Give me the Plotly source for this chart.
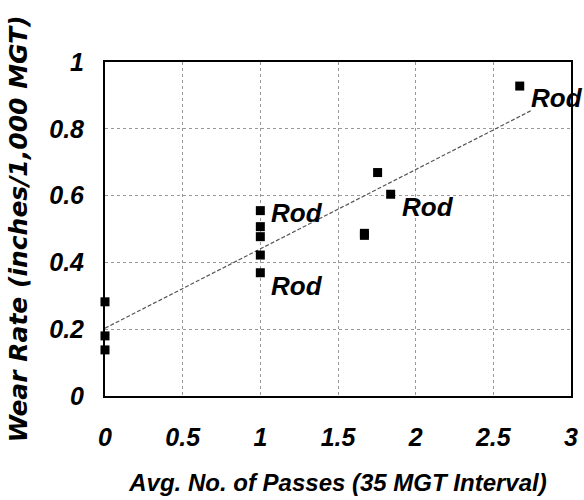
import plotly.graph_objects as go

# Data
x_vals = [0, 0, 0, 1, 1, 1, 1, 1, 1.755, 1.839, 1.67, 1.67, 2.67]
y_vals = [0.282, 0.18, 0.138, 0.555, 0.507, 0.477, 0.422, 0.369, 0.669, 0.604, 0.487, 0.481, 0.928]

# Trend line endpoints
trend_x = [0, 2.75]
trend_y = [0.203, 0.856]

# Labelled points
label_x = [1, 1, 1.839, 2.67]
label_y = [0.555, 0.369, 0.604, 0.928]
label_dy = [-2, -13, -13, -12]
label_text = ["Rod", "Rod", "Rod", "Rod"]

x_ticks = [0, 0.5, 1, 1.5, 2, 2.5, 3]
y_ticks = [0, 0.2, 0.4, 0.6, 0.8, 1]

FONT = "Liberation Sans Narrow, Liberation Sans, Arial, sans-serif"
WIDE = "DejaVu Sans, Liberation Sans, Arial, sans-serif"

fig = go.Figure()
fig.add_trace(go.Scatter(x=trend_x, y=trend_y, mode="lines",
                         line=dict(color="#555555", width=1.2, dash="4px,2px"),
                         hoverinfo="skip", showlegend=False, cliponaxis=False))
fig.add_trace(go.Scatter(x=x_vals, y=y_vals, mode="markers",
                         marker=dict(symbol="square", size=9, color="black"),
                         showlegend=False, cliponaxis=False))

for lx, ly, dy, t in zip(label_x, label_y, label_dy, label_text):
    fig.add_annotation(x=lx, y=ly, text="<b><i>" + t + "</i></b>", showarrow=False,
                       xanchor="left", yanchor="middle", xshift=9, yshift=dy,
                       font=dict(family=FONT, size=26, color="black"))

fig.update_layout(
    width=584, height=500,
    margin=dict(l=105, r=6, t=62, b=104),
    paper_bgcolor="white", plot_bgcolor="white",
    font=dict(family=FONT, color="black"),
)
fig.update_xaxes(range=[0, 3], tickvals=x_ticks, ticktext=["<b><i>%g</i></b>" % v for v in x_ticks],
                 tickfont=dict(family=FONT, size=25), ticks="", ticklabelstandoff=18,
                 showline=True, linecolor="black", linewidth=2, mirror=True,
                 showgrid=True, gridcolor="#999999", griddash="dot", gridwidth=1,
                 zeroline=False,
                 title=dict(text="<b><i>Avg. No. of Passes (35 MGT Interval)</i></b>",
                            font=dict(family=FONT, size=24), standoff=24))
fig.update_yaxes(range=[0, 1], tickvals=y_ticks, ticktext=["<b><i>%g</i></b>" % v for v in y_ticks],
                 tickfont=dict(family=FONT, size=25), ticks="", ticklabelstandoff=14,
                 showline=True, linecolor="black", linewidth=2, mirror=True,
                 showgrid=True, gridcolor="#999999", griddash="dot", gridwidth=1,
                 zeroline=False,
                 title=dict(text="<b><i>Wear Rate (inches/1,000 MGT)</i></b>",
                            font=dict(family=WIDE, size=25), standoff=14))

fig.write_html("out.html", config={"displayModeBar": False},
               post_script="document.body.style.margin='0';")
